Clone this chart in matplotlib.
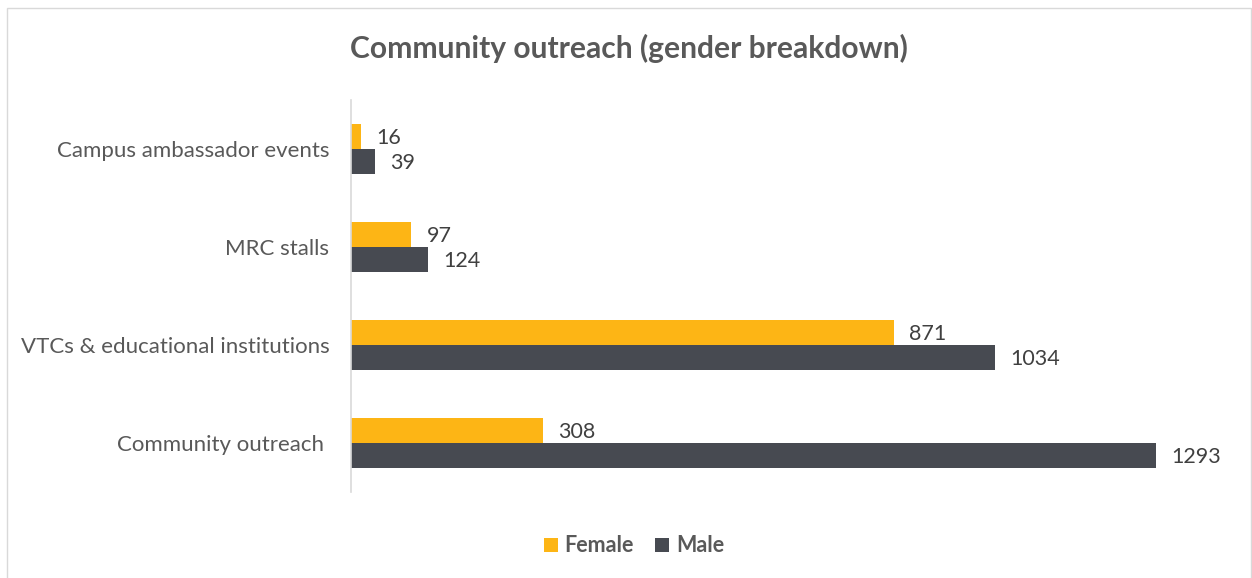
import matplotlib
matplotlib.use("Agg")
import matplotlib.pyplot as plt
from matplotlib.patches import Rectangle, Patch
import numpy as np

categories = ["Campus ambassador events", "MRC stalls", "VTCs & educational institutions", "Community outreach "]
female = [16, 97, 871, 308]
male = [39, 124, 1034, 1293]
series_names = ["Female", "Male"]
colors = ["#FDB515", "#474A51"]

plt.rcParams['font.family'] = ['Lato', 'DejaVu Sans']

fig = plt.figure(figsize=(12.52, 5.78), dpi=100)
W, H = 1252, 578
ax = fig.add_axes([351 / W, 1 - 492 / H, (1223 - 351) / W, (492 - 100) / H])

# figure border
fig.patches.append(Rectangle((7 / W, -0.01), (1251 - 7) / W, 1 - 8 / H + 0.01,
                             transform=fig.transFigure, fill=False,
                             edgecolor="#D9D9D9", linewidth=1.0))

n = len(categories)
y = np.arange(n)[::-1].astype(float)
h = 0.255
ax.barh(y + h / 2, female, height=h, color=colors[0], label=series_names[0])
ax.barh(y - h / 2, male, height=h, color=colors[1], label=series_names[1])

for yi, v in zip(y, female):
    ax.annotate(str(v), (v, yi + h / 2), xytext=(11, -1), textcoords="offset points",
                va="center", ha="left", fontsize=15.5, color="#404040")
for yi, v in zip(y, male):
    ax.annotate(str(v), (v, yi - h / 2), xytext=(11, -1), textcoords="offset points",
                va="center", ha="left", fontsize=15.5, color="#404040")

ax.set_xlim(0, 1400)
ax.set_ylim(-0.5, n - 0.5)
ax.set_yticks(y)
ax.set_yticklabels(categories, fontsize=16, color="#595959")
ax.tick_params(axis="y", length=0, pad=15.5)
ax.set_xticks([])
for s in ["top", "right", "bottom"]:
    ax.spines[s].set_visible(False)
ax.spines["left"].set_color("#D9D9D9")
ax.spines["left"].set_linewidth(1.2)

fig.text(629 / W, 1 - 48 / H, "Community outreach (gender breakdown)", ha="center", va="center",
         fontsize=21.6, fontweight="bold", color="#595959")

handles = [Patch(facecolor=colors[0]), Patch(facecolor=colors[1])]
leg = fig.legend(handles, series_names, loc="center", bbox_to_anchor=(634 / W, 1 - 546 / H),
                 ncol=2, frameon=False, handlelength=0.65, handleheight=0.65, handletextpad=0.3,
                 columnspacing=1.0, prop={"size": 15.5, "weight": "bold"})
for t in leg.get_texts():
    t.set_color("#595959")

fig.savefig("out.png", dpi=100, facecolor="white")
